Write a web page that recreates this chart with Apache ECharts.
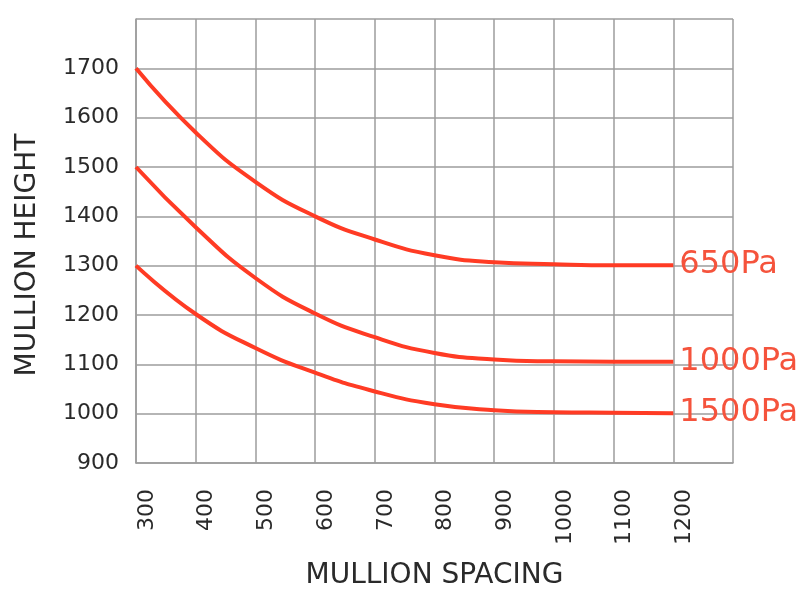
<!DOCTYPE html>
<html>
<head>
<meta charset="utf-8">
<script src="https://cdn.jsdelivr.net/npm/echarts@6/dist/echarts.min.js"></script>
<style>
html,body{margin:0;padding:0;background:#fff;}
#chart{width:801px;height:595px;}
</style>
</head>
<body>
<div id="chart"></div>
<script>
const spacing = [300, 400, 500, 600, 700, 800, 900, 1000, 1100, 1200];
const seriesNames = ['650Pa', '1000Pa', '1500Pa'];
const height650 = [1700, 1570, 1470, 1400, 1353, 1321, 1307, 1303, 1301, 1301];
const height1000 = [1500, 1378, 1275, 1203, 1155, 1123, 1110, 1106, 1105, 1105];
const height1500 = [1300, 1202, 1133, 1083, 1045, 1019, 1007, 1003, 1002, 1001];
const xTicks = [300, 400, 500, 600, 700, 800, 900, 1000, 1100, 1200];
const yTicks = [900, 1000, 1100, 1200, 1300, 1400, 1500, 1600, 1700];

const FONT = 'DejaVu Sans';
const RED = '#ff3b24';
const GRID = '#9c9c9c';
const TEXT = '#2a2a2a';

function pairs(vals) { return spacing.map((x, i) => [x, vals[i]]); }

const allSeries = [height650, height1000, height1500].map((vals, i) => ({
  name: seriesNames[i],
  type: 'line',
  data: pairs(vals),
  smooth: 0.5,
  symbol: 'none',
  lineStyle: { color: RED, width: 4 },
  endLabel: {
    show: true,
    formatter: seriesNames[i],
    color: '#f5533c',
    fontFamily: FONT,
    fontSize: 32,
    distance: 6
  }
}));

const chart = echarts.init(document.getElementById('chart'));
chart.setOption({
  animation: false,
  backgroundColor: '#fff',
  grid: { left: 136, right: 68, top: 19, bottom: 130, containLabel: false },
  xAxis: {
    type: 'value',
    min: 300, max: 1300, interval: 100,
    name: 'MULLION SPACING',
    nameLocation: 'middle',
    nameGap: 99,
    nameTextStyle: { fontFamily: FONT, fontSize: 28, color: TEXT },
    axisLine: { show: true, lineStyle: { color: GRID, width: 1.5 } },
    axisTick: { show: false },
    splitLine: { show: true, lineStyle: { color: GRID, width: 1.5 } },
    axisLabel: {
      rotate: 90,
      margin: 26,
      verticalAlign: 'top',
      fontFamily: FONT, fontSize: 22, color: TEXT,
      formatter: v => (xTicks.indexOf(v) >= 0 ? String(v) : '')
    }
  },
  yAxis: {
    type: 'value',
    min: 900, max: 1800, interval: 100,
    name: 'MULLION HEIGHT',
    nameLocation: 'middle',
    nameGap: 94,
    nameTextStyle: { fontFamily: FONT, fontSize: 28, color: TEXT, padding: [0, 28, 0, 0] },
    axisLine: { show: true, lineStyle: { color: GRID, width: 1.5 } },
    axisTick: { show: false },
    splitLine: { show: true, lineStyle: { color: GRID, width: 1.5 } },
    axisLabel: {
      margin: 17,
      padding: [0, 0, 12, 0],
      fontFamily: FONT, fontSize: 22, color: TEXT,
      formatter: v => (yTicks.indexOf(v) >= 0 ? String(v) : '')
    }
  },
  series: allSeries
});
</script>
</body>
</html>
